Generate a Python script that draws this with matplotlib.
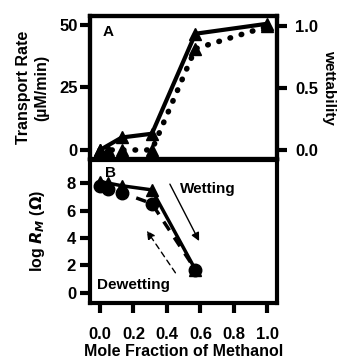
import matplotlib
matplotlib.use("Agg")
import matplotlib.pyplot as plt

plt.rcParams['font.family'] = ['Liberation Sans', 'DejaVu Sans']
plt.rcParams['font.weight'] = 'bold'

# Panel A data
x_rate = [0.0, 0.13, 0.31, 0.57, 1.0]
rate = [0.0, 5.0, 6.5, 46.5, 50.5]
x_wet = [0.0, 0.047, 0.13, 0.31, 0.57, 1.0]
wettability = [0.0, 0.0, 0.0, 0.0, 0.82, 1.0]

# Panel B data
x_rm = [0.0, 0.047, 0.13, 0.31, 0.57]
logrm_tri = [8.1, 8.0, 7.8, 7.5, 1.7]
logrm_circ = [7.8, 7.6, 7.3, 6.5, 1.7]

xticks = [0.0, 0.2, 0.4, 0.6, 0.8, 1.0]
xticklabels = ['0.0', '0.2', '0.4', '0.6', '0.8', '1.0']
ticks_rate = [0, 25, 50]
ticks_wet = [0.0, 0.5, 1.0]
ticks_rm = [0, 2, 4, 6, 8]

fig = plt.figure(figsize=(3.4, 3.6), dpi=100)
L, W = 0.2647, 0.551
axA = fig.add_axes([L, 0.557, W, 0.3986])
axB = fig.add_axes([L, 0.1583, W, 0.3986])

SW = 3.0
FS = 12
for ax in (axA, axB):
    for s in ax.spines.values():
        s.set_linewidth(SW)
    ax.set_xlim(-0.06, 1.06)

# Panel A
axA.plot(x_rate, rate, '-', color='black', lw=3, marker='^', ms=9, clip_on=False, zorder=3)
axA.set_ylim(-3.8, 53.6)
axA.set_yticks(ticks_rate)
axA.set_yticklabels([str(t) for t in ticks_rate], fontsize=FS, fontweight='bold')
axA.set_xticks([])
axA.tick_params(axis='y', length=7, width=SW, pad=2)
axA.set_ylabel('Transport Rate\n(\u00b5M/min)', fontsize=11.5, fontweight='bold', labelpad=7, linespacing=1.3)
axA.text(0.05, 47, 'A', fontsize=11, fontweight='bold', ha='center', va='center')

axW = axA.twinx()
axW.set_position([L, 0.557, W, 0.3986])
for s in axW.spines.values():
    s.set_linewidth(SW)
lw_line, = axW.plot(x_wet, wettability, color='black', lw=4, marker='^', ms=9,
                    clip_on=False, zorder=3)
lw_line.set_dashes((0.1, 2.0))
lw_line.set_dash_capstyle('round')
axW.set_ylim(-0.077, 1.085)
axW.set_yticks(ticks_wet)
axW.set_yticklabels(['0.0', '0.5', '1.0'], fontsize=FS, fontweight='bold')
axW.tick_params(axis='y', length=7, width=SW, pad=6)
axW.set_ylabel('wettability', fontsize=11, fontweight='bold', rotation=270, labelpad=13)

# Panel B
axB.plot(x_rm, logrm_tri, '-', color='black', lw=2.5, marker='^', ms=9, clip_on=False, zorder=3)
axB.plot(x_rm, logrm_circ, '--', color='black', lw=2.5, marker='o', ms=9,
         dashes=(3, 2.5), clip_on=False, zorder=4)
axB.set_ylim(-0.73, 9.71)
axB.set_yticks(ticks_rm)
axB.set_yticklabels([str(t) for t in ticks_rm], fontsize=FS, fontweight='bold')
axB.set_xticks(xticks)
axB.set_xticklabels(xticklabels, fontsize=FS, fontweight='bold')
axB.tick_params(axis='y', length=7, width=SW, pad=3)
axB.tick_params(axis='x', length=7, width=SW, pad=10)
axB.set_ylabel(r'log $\mathbf{\mathit{R_M}}$ ($\mathbf{\Omega}$)', fontsize=11.5, fontweight='bold', labelpad=14)
axB.set_xlabel('Mole Fraction of Methanol', fontsize=11.5, fontweight='bold', labelpad=2)
axB.text(0.06, 8.75, 'B', fontsize=11, fontweight='bold', ha='center', va='center')

axB.text(0.48, 7.6, 'Wetting', fontsize=11, fontweight='bold', ha='left', va='center')
axB.text(-0.02, 0.6, 'Dewetting', fontsize=11, fontweight='bold', ha='left', va='center')
axB.annotate('', xy=(0.60, 3.6), xytext=(0.41, 8.1),
             arrowprops=dict(arrowstyle='-|>', color='black', lw=1, mutation_scale=12))
axB.annotate('', xy=(0.27, 4.7), xytext=(0.46, 1.3),
             arrowprops=dict(arrowstyle='-|>', color='black', lw=1, ls=(0, (4, 3)), mutation_scale=12))

fig.savefig('out.png', dpi=100)
